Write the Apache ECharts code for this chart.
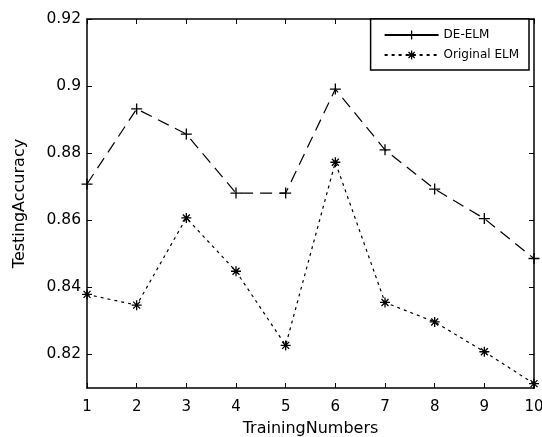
<!DOCTYPE html>
<html><head><meta charset="utf-8">
<script src="https://cdn.jsdelivr.net/npm/echarts@6/dist/echarts.min.js"></script>
<style>html,body{margin:0;padding:0;background:#fff}#c{width:542px;height:437px}</style>
</head><body><div id="c"></div>
<script>
const trainingNumbers = [1, 2, 3, 4, 5, 6, 7, 8, 9, 10];
const deElm = [0.8708, 0.8932, 0.8857, 0.8681, 0.8681, 0.8991, 0.8810, 0.8693, 0.8605, 0.8486];
const originalElm = [0.8379, 0.8347, 0.8607, 0.8448, 0.8227, 0.8773, 0.8355, 0.8297, 0.8208, 0.8113];
const yTicks = [0.82, 0.84, 0.86, 0.88, 0.9, 0.92];
const xTicks = [1, 2, 3, 4, 5, 6, 7, 8, 9, 10];

const plusPath = 'path://M0,5L10,5M5,0L5,10';
const starPath = 'path://M5,0L5,10M0,5L10,5M1.5,1.5L8.5,8.5M8.5,1.5L1.5,8.5';
const font = 'DejaVu Sans';

const chart = echarts.init(document.getElementById('c'), null, {renderer: 'canvas'});
const axisLine = {show: true, lineStyle: {color: '#000', width: 1.5}};
const tick = {show: true, inside: true, length: 5, lineStyle: {color: '#000', width: 1}};
const markStyle = {color: 'transparent', borderColor: '#000', borderWidth: 1.3};
chart.setOption({
  animation: false,
  backgroundColor: '#fff',
  grid: {left: 87, right: 8, top: 19, bottom: 49, containLabel: false, outerBoundsMode: 'none'},
  legend: {
    orient: 'vertical', right: 13, top: 19,
    backgroundColor: '#fff', borderColor: '#000', borderWidth: 1.5, borderRadius: 0,
    padding: [10, 10, 9, 13], itemWidth: 54, itemHeight: 11, itemGap: 8,
    textStyle: {fontFamily: font, fontSize: 12, color: '#000'},
    data: [
      {name: 'DE-ELM', lineStyle: {type: 'solid'}, itemStyle: markStyle},
      {name: 'Original ELM', itemStyle: markStyle}
    ]
  },
  xAxis: [{
    type: 'value', min: 1, max: 10, interval: 1,
    name: 'TrainingNumbers', nameLocation: 'middle', nameGap: 33,
    nameTextStyle: {fontFamily: font, fontSize: 16, color: '#000'},
    axisLine: axisLine, axisTick: tick, splitLine: {show: false},
    axisLabel: {fontFamily: font, fontSize: 15, color: '#000', margin: 12,
      customValues: xTicks},
  }, {
    type: 'value', min: 1, max: 10, interval: 1, position: 'top',
    axisLine: axisLine, axisTick: tick, splitLine: {show: false}, axisLabel: {show: false}
  }],
  yAxis: [{
    type: 'value', min: 0.81, max: 0.92,
    name: 'TestingAccuracy', nameLocation: 'middle', nameGap: 59,
    nameTextStyle: {fontFamily: font, fontSize: 16, color: '#000'},
    axisLine: axisLine, splitLine: {show: false},
    axisTick: Object.assign({customValues: yTicks}, tick),
    axisLabel: {fontFamily: font, fontSize: 15.5, color: '#000', margin: 6,
      customValues: yTicks, formatter: v => String(+v.toFixed(2))}
  }, {
    type: 'value', min: 0.81, max: 0.92, position: 'right',
    axisLine: axisLine, splitLine: {show: false},
    axisTick: Object.assign({customValues: yTicks}, tick),
    axisLabel: {show: false}
  }],
  series: [{
    name: 'DE-ELM', type: 'line',
    data: trainingNumbers.map((x, i) => [x, deElm[i]]),
    symbol: plusPath, symbolSize: 11, showAllSymbol: true,
    lineStyle: {color: '#000', width: 1.2, type: [12, 7]},
    itemStyle: markStyle,
    emphasis: {disabled: true}
  }, {
    name: 'Original ELM', type: 'line',
    data: trainingNumbers.map((x, i) => [x, originalElm[i]]),
    symbol: starPath, symbolSize: 10, showAllSymbol: true,
    lineStyle: {color: '#000', width: 1.2, type: [3, 4]},
    itemStyle: markStyle,
    emphasis: {disabled: true}
  }]
});
</script></body></html>
